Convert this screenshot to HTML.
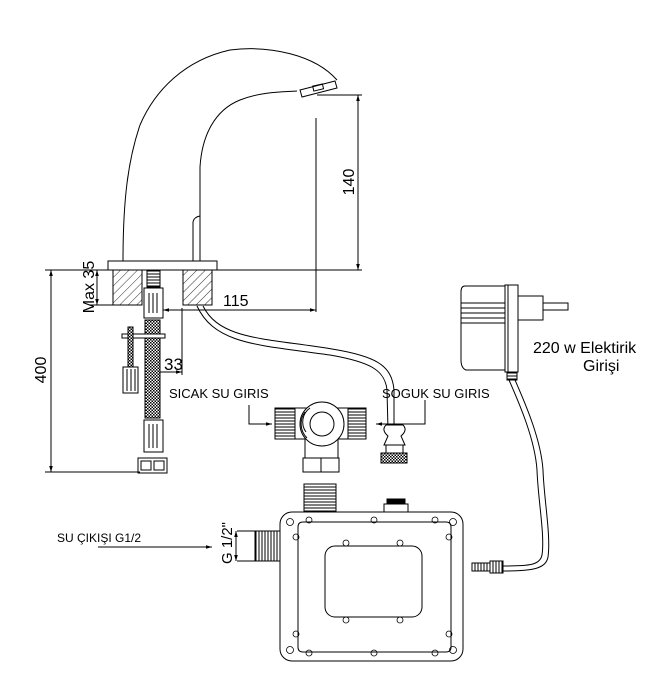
<!DOCTYPE html>
<html><head><meta charset="utf-8"><style>
html,body{margin:0;padding:0;background:#fff;width:667px;height:684px;overflow:hidden}
svg{display:block}
text{font-family:"Liberation Sans",Arial,sans-serif;fill:#000}
</style></head><body>
<svg width="667" height="684" viewBox="0 0 667 684" xmlns="http://www.w3.org/2000/svg">
<defs>
<pattern id="hatch" width="6" height="6" patternUnits="userSpaceOnUse" patternTransform="rotate(45)">
<line x1="0" y1="0" x2="0" y2="6" stroke="#000" stroke-width="0.8"/></pattern>
<pattern id="braid" width="3" height="3" patternUnits="userSpaceOnUse">
<rect width="3" height="3" fill="#fff"/><rect width="1.5" height="1.5" fill="#000"/><rect x="1.5" y="1.5" width="1.5" height="1.5" fill="#000"/></pattern>
<pattern id="thr" width="3" height="3" patternUnits="userSpaceOnUse"><line x1="0" y1="1" x2="3" y2="1" stroke="#000" stroke-width="1"/></pattern>
<pattern id="thrv" width="3" height="3" patternUnits="userSpaceOnUse"><line x1="1" y1="0" x2="1" y2="3" stroke="#000" stroke-width="1"/></pattern>
<marker id="ar" viewBox="0 0 10 10" refX="10" refY="5" markerWidth="8" markerHeight="6" orient="auto-start-reverse"><path d="M0,2 L10,5 L0,8 Z" fill="#000"/></marker>
</defs>
<g fill="none" stroke="#000" stroke-width="1">
<path d="M123,261 C123,200 128,160 140,125 C155,90 185,60 230,50 C270,45 315,55 337,80"/>
<path d="M200,261 L200,167 C202,135 215,110 240,100 C260,92 280,92 297,91"/>
<polygon points="300,90 335,81 337,88 302,97"/>
<rect x="313" y="85" width="10" height="5" transform="rotate(-13 318 87)"/>
<path d="M193,261 L193,222 Q194,217 200,216"/>
<rect x="108" y="261" width="109" height="9"/>
<line x1="45" y1="270" x2="362" y2="270"/>
<rect x="113" y="270" width="29" height="35" fill="url(#hatch)"/>
<rect x="183" y="270" width="29" height="35" fill="url(#hatch)"/>
<rect x="147" y="271" width="13" height="16" fill="url(#thr)"/>
<line x1="317" y1="95" x2="362" y2="95"/>
<line x1="358" y1="95" x2="358" y2="270" marker-start="url(#ar)" marker-end="url(#ar)"/>
<line x1="316" y1="118" x2="316" y2="312"/>
<line x1="97" y1="270" x2="97" y2="305" marker-start="url(#ar)" marker-end="url(#ar)"/>
<line x1="90" y1="305" x2="113" y2="305"/>
<line x1="51" y1="270" x2="51" y2="472" marker-start="url(#ar)" marker-end="url(#ar)"/>
<line x1="45" y1="472" x2="140" y2="472"/>
<line x1="163" y1="310" x2="316" y2="310" marker-start="url(#ar)" marker-end="url(#ar)"/>
<line x1="182" y1="308" x2="182" y2="375"/>
<line x1="146" y1="372" x2="182" y2="372" marker-start="url(#ar)" marker-end="url(#ar)"/>
<rect x="144" y="288" width="19" height="30" fill="#fff"/>
<line x1="149" y1="293" x2="149" y2="313"/><line x1="153" y1="293" x2="153" y2="313"/><line x1="157" y1="293" x2="157" y2="313"/>
<rect x="145" y="320" width="15" height="98" fill="url(#braid)"/>
<rect x="122" y="334" width="43" height="4" fill="#fff"/>
<rect x="128" y="327" width="5" height="40" fill="url(#braid)"/>
<rect x="123" y="367" width="15" height="26" fill="#fff"/>
<line x1="127" y1="369" x2="127" y2="391"/><line x1="131" y1="369" x2="131" y2="391"/><line x1="135" y1="369" x2="135" y2="391"/>
<rect x="144" y="420" width="19" height="32" fill="#fff"/>
<line x1="149" y1="424" x2="149" y2="448"/><line x1="153" y1="424" x2="153" y2="448"/><line x1="157" y1="424" x2="157" y2="448"/>
<rect x="138" y="458" width="29" height="15"/>
<rect x="141" y="461" width="10" height="9"/><rect x="154" y="461" width="10" height="9"/>
<path d="M197,306 C215,345 260,345 330,355 C370,362 385,370 387,390 L388,430"/>
<path d="M203,306 C220,340 265,338 332,349 C375,356 392,365 394,390 L394,430"/>
<path d="M249,405 L249,424 L272,424" marker-end="url(#ar)"/>
<rect x="275" y="408" width="20" height="31" fill="url(#thr)"/>
<rect x="348" y="408" width="18" height="31" fill="url(#thr)"/>
<line x1="295" y1="408" x2="348" y2="408"/><line x1="295" y1="439" x2="348" y2="439"/>
<circle cx="322" cy="424" r="22" fill="#fff"/>
<circle cx="322" cy="424" r="12"/>
<path d="M305,412 A20,20 0 0 0 307,438"/>
<path d="M310,408 A17,17 0 0 0 306,432"/>
<path d="M305,439 L305,458 M338,439 L338,458"/>
<rect x="303" y="458" width="36" height="14"/><line x1="321" y1="458" x2="321" y2="472"/>
<path d="M425,400 L425,424 L376,424" marker-end="url(#ar)"/>
<path d="M386,425 Q381,430 388,436 L384,445 L405,445 L401,436 Q408,430 403,425 Z" fill="#fff"/>
<rect x="386" y="445" width="17" height="8"/>
<rect x="381" y="453" width="26" height="10" fill="url(#braid)"/>
<rect x="304" y="484" width="32" height="28" fill="url(#thr)"/>
<rect x="384" y="504" width="24" height="8"/><rect x="387" y="499" width="18" height="5" fill="#000"/>
<rect x="280" y="512" width="183" height="149" rx="12"/>
<path d="M303,522 L446,522 Q451,522 451,527 L451,647 Q451,652 446,652 L303,652 Q298,652 298,647 L298,527 Q298,522 303,522 Z"/>
<rect x="325" y="546" width="97" height="71" rx="10"/>
<g stroke-width="0.8">
<circle cx="290" cy="522" r="3.5"/><circle cx="453" cy="522" r="3.5"/><circle cx="290" cy="650" r="3.5"/><circle cx="453" cy="650" r="3.5"/>
<circle cx="309" cy="520" r="3"/><circle cx="374" cy="520" r="3"/><circle cx="435" cy="520" r="3"/>
<circle cx="309" cy="653" r="3"/><circle cx="374" cy="653" r="3"/><circle cx="435" cy="653" r="3"/>
<circle cx="296" cy="537" r="3"/><circle cx="449" cy="537" r="3"/><circle cx="296" cy="634" r="3"/><circle cx="449" cy="634" r="3"/>
<circle cx="346" cy="543" r="3"/><circle cx="400" cy="543" r="3"/><circle cx="346" cy="620" r="3"/><circle cx="400" cy="620" r="3"/>
</g>
<rect x="255" y="531" width="25" height="30" fill="url(#thrv)"/>
<line x1="237" y1="531" x2="255" y2="531"/><line x1="237" y1="561" x2="255" y2="561"/>
<line x1="236" y1="531" x2="236" y2="561" marker-start="url(#ar)" marker-end="url(#ar)"/>
<line x1="98" y1="547" x2="212" y2="547" marker-end="url(#ar)"/>
<path d="M465,286 L505,286 L505,370 L466,370 Q461,368 461,360 L461,292 Q461,286 465,286 Z"/>
<line x1="461" y1="303" x2="505" y2="303"/><line x1="461" y1="308" x2="505" y2="308"/><line x1="461" y1="313" x2="505" y2="313"/><line x1="461" y1="318" x2="505" y2="318"/><line x1="461" y1="323" x2="505" y2="323"/>
<rect x="505" y="285" width="13" height="87"/><line x1="508" y1="285" x2="508" y2="372"/>
<rect x="518" y="296" width="25" height="24"/>
<rect x="543" y="303" width="25" height="7"/>
<rect x="507" y="372" width="10" height="8" fill="url(#thr)"/>
<path d="M509,380 C520,405 535,440 537,470 C538,500 545,535 542,555 C540,565 530,566 503,566"/>
<path d="M515,380 C526,405 541,440 543,470 C544,500 551,535 548,557 C546,569 532,571 503,571"/>
<rect x="490" y="561" width="13" height="12" fill="url(#thrv)"/>
<rect x="472" y="563" width="18" height="8" fill="url(#thrv)"/>
</g>
<text x="0" y="0" font-size="16" transform="translate(354,182) rotate(-90)" text-anchor="middle">140</text>
<text x="0" y="0" font-size="16" transform="translate(94,287) rotate(-90)" text-anchor="middle">Max 35</text>
<text x="0" y="0" font-size="16" transform="translate(46,370) rotate(-90)" text-anchor="middle">400</text>
<text x="223" y="306" font-size="16">115</text>
<text x="164" y="370" font-size="17">33</text>
<text x="169" y="398" font-size="13">SICAK SU GIRIS</text>
<text x="382" y="398" font-size="13">SOGUK SU GIRIS</text>
<text x="533" y="353" font-size="16">220 w Elektirik</text>
<text x="583" y="371" font-size="16">Girişi</text>
<text x="57" y="542" font-size="12">SU ÇIKIŞI G1/2</text>
<text x="0" y="0" font-size="15" transform="translate(232,543) rotate(-90)" text-anchor="middle">G 1/2"</text>
</svg>
</body></html>
